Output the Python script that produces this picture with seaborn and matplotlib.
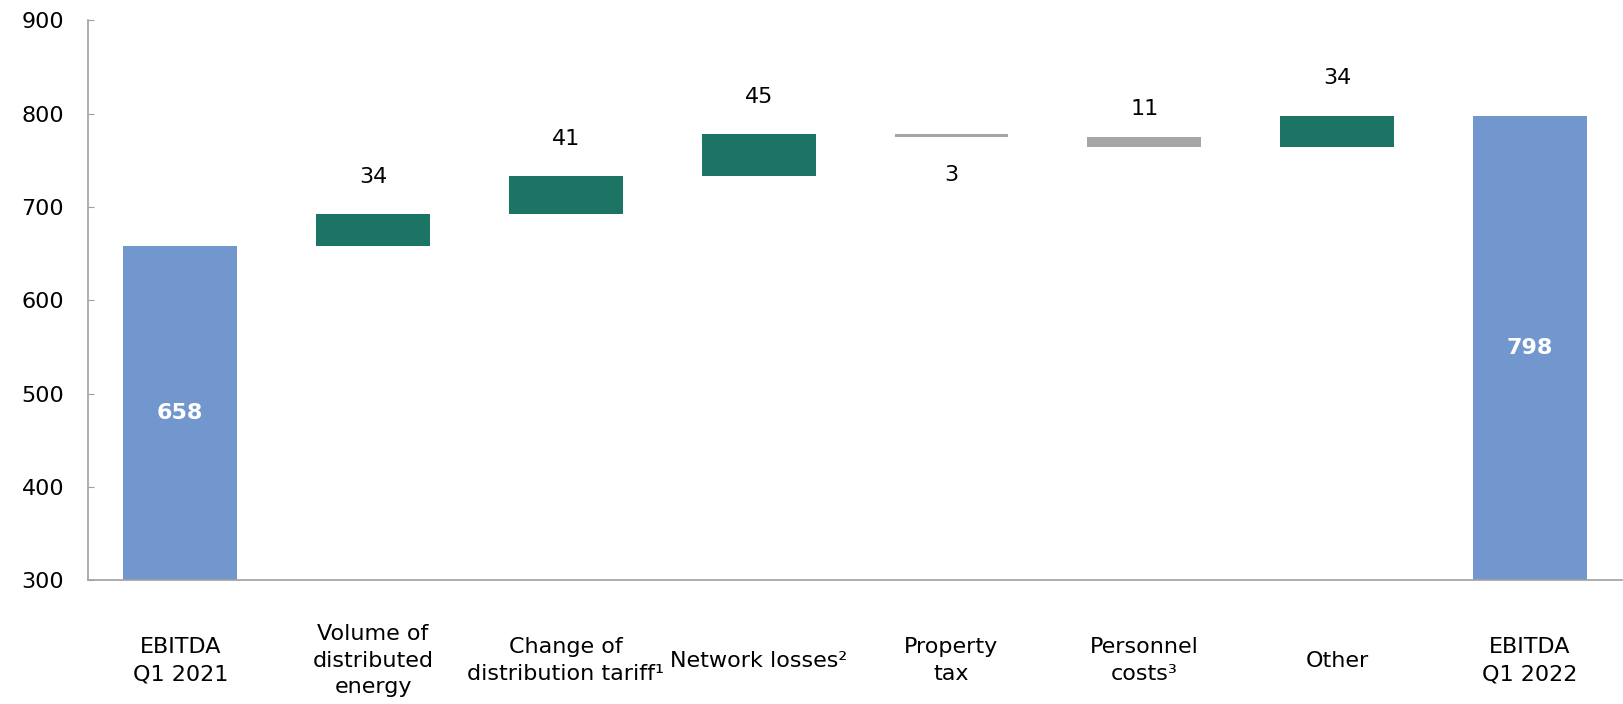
import matplotlib
matplotlib.use("Agg")
import matplotlib.pyplot as plt
import seaborn as sns
import numpy as np
import pandas as pd

categories = ["EBITDA\nQ1 2021", "Volume of\ndistributed\nenergy", "Change of\ndistribution tariff¹",
              "Network losses²", "Property\ntax", "Personnel\ncosts³", "Other", "EBITDA\nQ1 2022"]
changes = [658, 34, 41, 45, -3, -11, 34, 798]
kinds = ["total", "delta", "delta", "delta", "delta", "delta", "delta", "total"]

colors = {"total": "#7297CF", "up": "#1C7564", "down": "#A6A6A6"}

# waterfall geometry derived from data
lows, highs, cols = [], [], []
running = 0
for v, k in zip(changes, kinds):
    if k == "total":
        lows.append(0); highs.append(v); cols.append(colors["total"]); running = v
    else:
        new = running + v
        lows.append(min(running, new)); highs.append(max(running, new))
        cols.append(colors["up"] if v > 0 else colors["down"])
        running = new

df = pd.DataFrame({"cat": categories, "low": lows, "span": np.array(highs) - np.array(lows)})

sns.set_style("white")
plt.rcParams["font.family"] = ["DejaVu Sans"]
fig = plt.figure(figsize=(16.24, 7.04), dpi=100)
ax = fig.add_axes([0.054, 0.176, 0.945, 0.795])

sns.barplot(data=df, x="cat", y="span", hue="cat", palette=cols, legend=False,
            width=0.59, ax=ax, saturation=1)
for p, lo in zip(ax.patches, lows):
    p.set_y(lo)
    p.set_linewidth(0)

ax.set_ylim(300, 900)
ax.set_xlim(-0.48, 7.48)
ax.set_yticks(range(300, 901, 100))
ax.set_xlabel("")
ax.set_ylabel("")
for s in ["top", "right"]:
    ax.spines[s].set_visible(False)
for s in ["left", "bottom"]:
    ax.spines[s].set_color("#A0A0A0")
    ax.spines[s].set_linewidth(1.2)
ax.tick_params(axis="y", direction="in", length=4, color="#A0A0A0", labelsize=16,
               labelcolor="black", pad=17, left=True)
ax.tick_params(axis="x", length=0, labelsize=16, labelcolor="black", pad=58)
for lbl in ax.get_xticklabels():
    lbl.set_verticalalignment("center")
    lbl.set_linespacing(1.42)

# labels
for i, (v, k, lo, hi) in enumerate(zip(changes, kinds, lows, highs)):
    if k == "total":
        ax.text(i, (300 + hi) / 2, f"{v}", ha="center", va="center", color="white",
                fontsize=16, fontweight="bold")
    elif v > 0:
        ax.annotate(f"{abs(v)}", (i, hi), xytext=(0, 27), textcoords="offset points",
                    ha="center", va="center", fontsize=16, color="black")
    else:
        if abs(v) < 5:
            ax.annotate(f"{abs(v)}", (i, lo), xytext=(0, -27), textcoords="offset points",
                        ha="center", va="center", fontsize=16, color="black")
        else:
            ax.annotate(f"{abs(v)}", (i, hi), xytext=(0, 20), textcoords="offset points",
                        ha="center", va="center", fontsize=16, color="black")

fig.savefig("out.png", dpi=100)
